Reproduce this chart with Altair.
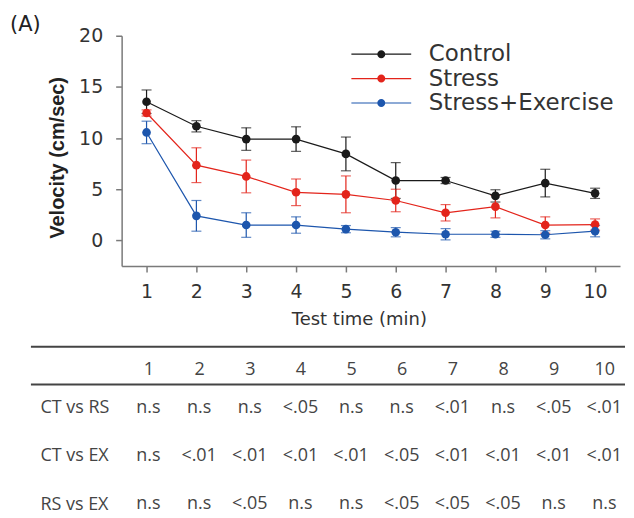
import altair as alt
import pandas as pd

minutes = [1, 2, 3, 4, 5, 6, 7, 8, 9, 10]
groups = ["Control", "Stress", "Stress+Exercise"]
colors = ["#1a1a1a", "#e3241b", "#1d56ad"]

control_mean = [13.55, 11.15, 9.9, 9.9, 8.45, 5.85, 5.85, 4.35, 5.6, 4.6]
control_err = [1.15, 0.55, 1.1, 1.2, 1.65, 1.75, 0.3, 0.6, 1.35, 0.5]
stress_mean = [12.45, 7.35, 6.25, 4.7, 4.5, 3.9, 2.7, 3.3, 1.5, 1.55]
stress_err = [0.3, 1.7, 1.6, 1.3, 1.8, 1.1, 0.8, 1.1, 0.8, 0.55]
ex_mean = [10.55, 2.4, 1.5, 1.5, 1.1, 0.8, 0.6, 0.6, 0.55, 0.9]
ex_err = [1.1, 1.5, 1.2, 0.8, 0.35, 0.45, 0.55, 0.3, 0.4, 0.55]

row_labels = ["CT vs RS", "CT vs EX", "RS vs EX"]
ct_vs_rs = ["n.s", "n.s", "n.s", "<.05", "n.s", "n.s", "<.01", "n.s", "<.05", "<.01"]
ct_vs_ex = ["n.s", "<.01", "<.01", "<.01", "<.01", "<.05", "<.01", "<.01", "<.01", "<.01"]
rs_vs_ex = ["n.s", "n.s", "<.05", "n.s", "n.s", "<.05", "<.05", "<.05", "n.s", "n.s"]

# ---- tables built from the lists ----
recs = []
for g, means, errs in zip(groups, [control_mean, stress_mean, ex_mean],
                          [control_err, stress_err, ex_err]):
    for m, v, e in zip(minutes, means, errs):
        recs.append({"minute": m, "group": g, "mean": v, "err": e})
df = pd.DataFrame(recs)

trecs = []
for lab, vals in zip(row_labels, [ct_vs_rs, ct_vs_ex, rs_vs_ex]):
    for m, p in zip(minutes, vals):
        trecs.append({"minute": m, "row": lab, "p": p})
tdf = pd.DataFrame(trecs)

# ---- main plot ----
xs = alt.Scale(domain=[0.5, 10.5], nice=False, zero=False)
ys = alt.Scale(domain=[-2.5, 20], nice=False, zero=False)
cscale = alt.Scale(domain=groups, range=colors)

x_enc = alt.X("minute:Q", scale=xs,
              axis=alt.Axis(values=minutes, format="d", title="Test time (min)",
                            labelPadding=11, titlePadding=9, titleFontWeight="normal",
                            titleFont="DejaVu Sans", titleFontSize=18, titleColor="#333",
                            titleX=238))
y_enc = alt.Y("mean:Q", scale=ys,
              axis=alt.Axis(values=[0, 5, 10, 15, 20], title="Velocity (cm/sec)",
                            labelPadding=13, titlePadding=11, titleFont="Liberation Sans",
                            titleFontSize=20, titleFontWeight="bold", titleColor="#222",
                            titleY=122))

# legend symbol: thin horizontal line with a dot in the middle (filled shapes)
leg_path = ("M-5,-0.1L5,-0.1L5,0.1L-5,0.1Z"
            "M-0.67,0A0.67,0.67,0,1,1,0.67,0A0.67,0.67,0,1,1,-0.67,0Z")
legend = alt.Legend(title=None, orient="none", legendX=249, legendY=7,
                    symbolType=leg_path, symbolSize=144, symbolStrokeWidth=0,
                    symbolOpacity=1, labelLimit=400,
                    labelFont="DejaVu Sans", labelFontSize=23, labelColor="#333",
                    labelOffset=36, rowPadding=0.5, padding=0)
color_enc = alt.Color("group:N", scale=cscale, legend=legend)

base = alt.Chart(df)
errs = base.mark_errorbar(ticks=True, size=10, thickness=1.2).encode(
    x=x_enc, y=y_enc, yError="err:Q", color=color_enc)
lines = base.mark_line(strokeWidth=1.2).encode(
    x=x_enc, y=y_enc, color=color_enc)
points = base.mark_point(filled=True, size=75, opacity=1).encode(
    x=x_enc, y=y_enc, color=color_enc)

top = alt.layer(errs, lines, points).properties(width=500, height=231)

# ---- table ----
tx = alt.Scale(domain=[0.47, 10.31], nice=False, zero=False)
rowscale = alt.Scale(type="point", domain=row_labels, range=[23, 120], padding=0)
tfont = "Open Sans"

cells = alt.Chart(tdf).mark_text(font=tfont, fontSize=18, color="#444").encode(
    x=alt.X("minute:Q", scale=tx,
            axis=alt.Axis(orient="top", values=minutes, format="d", title=None,
                          domain=False, ticks=False, tickSize=0, labelPadding=6,
                          labelFont=tfont, labelFontSize=18, labelColor="#444",
                          grid=False)),
    y=alt.Y("row:N", scale=rowscale,
            axis=alt.Axis(title=None, domain=False, ticks=False, tickSize=0,
                          labelAlign="left", labelPadding=82, labelFont=tfont,
                          labelFontSize=18, labelColor="#444", grid=False)),
    text="p:N")

one = pd.DataFrame({"k": [0]})
rule_top = alt.Chart(one).mark_rule(color="#444", strokeWidth=2).encode(
    x=alt.value(-91), x2=alt.value(505), y=alt.value(-38))
rule_mid = alt.Chart(one).mark_rule(color="#444", strokeWidth=2).encode(
    x=alt.value(-91), x2=alt.value(505), y=alt.value(0))

table = alt.layer(rule_top, rule_mid, cells).properties(width=500, height=118)

chart = alt.vconcat(top, table, spacing=17).properties(
    title=alt.TitleParams(text="(A)", anchor="start", font="DejaVu Sans", fontSize=21,
                          fontWeight="normal", color="#222", dx=-20, offset=-8),
    padding={"left": 2, "top": 5, "right": 0, "bottom": 0},
).configure_view(stroke=None).configure_axis(
    grid=False, domainColor="#7a7a7a", domainWidth=1.5, tickColor="#7a7a7a",
    tickWidth=1.5, tickSize=6, labelFont="DejaVu Sans", labelFontSize=19,
    labelColor="#333")

chart.save("out.html", embed_options={"renderer": "svg", "actions": False})
